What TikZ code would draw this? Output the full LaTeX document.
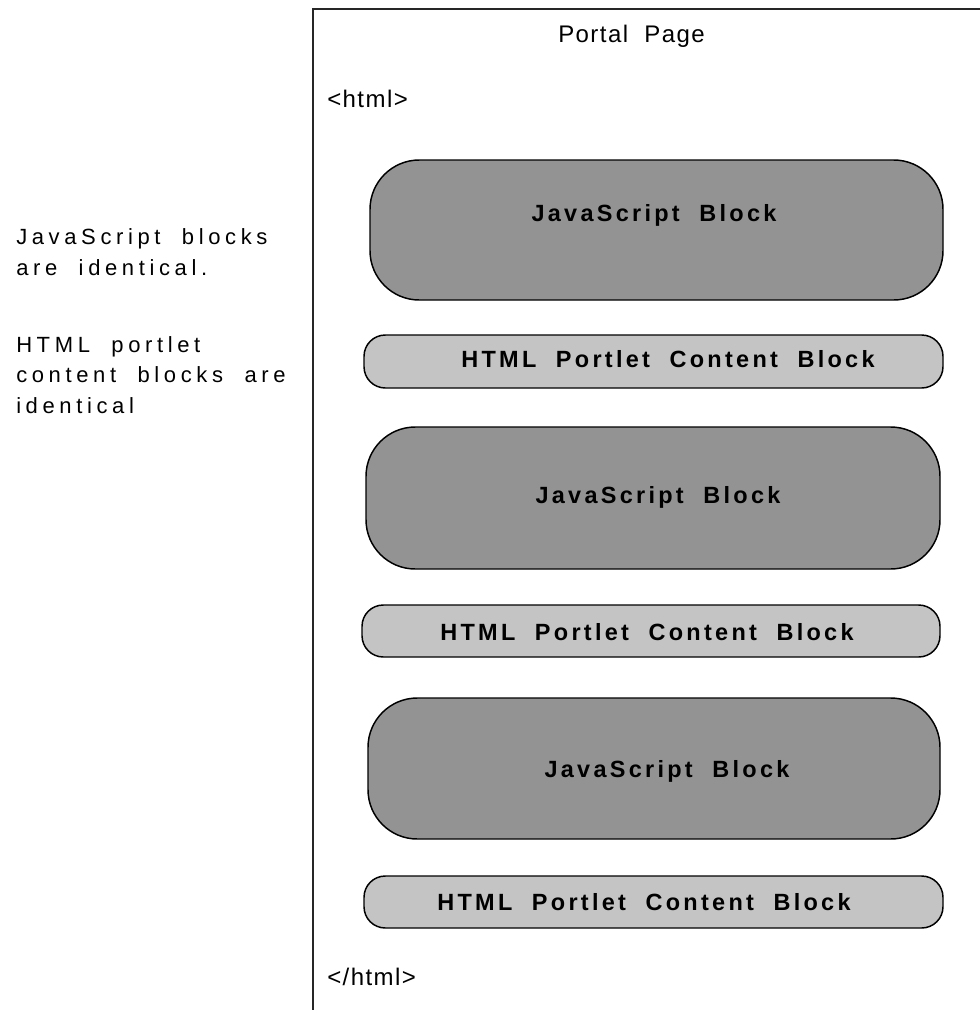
\documentclass[tikz,border=0pt]{standalone}
\usepackage{fontspec}
\setmainfont{Liberation Sans}
\newfontfamily\notefont[LetterSpace=21]{Liberation Sans}
\newfontfamily\tagfont[LetterSpace=6]{Liberation Sans}
\newfontfamily\blockfont[LetterSpace=14]{Liberation Sans Bold}
\definecolor{jsgray}{HTML}{939393}
\definecolor{htgray}{HTML}{C4C4C4}
\begin{document}
\begin{tikzpicture}[x=0.75pt,y=-0.75pt,
  frame/.style={draw=black!85, line width=1.5pt},
  jsblock/.style={draw=black, line width=1.1pt, fill=jsgray, rounded corners=37pt},
  htblock/.style={draw=black, line width=1.1pt, fill=htgray, rounded corners=16pt},
  blocktext/.style={font=\blockfont\fontsize{17.6}{20}\selectfont, inner sep=0pt},
  tagtext/.style={font=\tagfont\fontsize{18}{20}\selectfont, inner sep=0pt, anchor=base west},
  notetext/.style={font=\notefont\fontsize{16.5}{22.75}\selectfont, inner sep=0pt, anchor=base west, align=left}]
\useasboundingbox (0,0) rectangle (979,1010);
\fill[white] (0,0) rectangle (979,1010);
% frame
\coordinate (ftr) at (982,9);
\coordinate (ftl) at (313,9);
\coordinate (fbl) at (313,1013);
\draw[frame] (ftr) -- (ftl) -- (fbl);
% title and tags
\node[tagtext] (title) at (558,42) {Portal\ \ Page};
\node[tagtext] (open) at (327,107) {<html>};
\node[tagtext] (close) at (327,985) {</html>};
% blocks
\draw[jsblock] (370,160) rectangle (943,300);
\draw[htblock] (364,335) rectangle (943,388);
\draw[jsblock] (366,427) rectangle (940,569);
\draw[htblock] (362,605) rectangle (940,657);
\draw[jsblock] (368,698) rectangle (940,839);
\draw[htblock] (364,876) rectangle (943,928);
\node[blocktext] (js1) at (654,215) {JavaScript\ \ Block};
\node[blocktext] (ht1) at (668,359) {HTML\ \ Portlet\ \ Content\ \ Block};
\node[blocktext] (js2) at (658,497) {JavaScript\ \ Block};
\node[blocktext] (ht2) at (647,632) {HTML\ \ Portlet\ \ Content\ \ Block};
\node[blocktext] (js3) at (667,771) {JavaScript\ \ Block};
\node[blocktext] (ht3) at (644,902) {HTML\ \ Portlet\ \ Content\ \ Block};
% notes
\node[notetext] (note1) at (16,275) {JavaScript\ \ blocks\\are\ \ identical.};
\node[notetext] (note2) at (16,413) {HTML\ \ portlet\\content\ \ blocks\ \ are\\identical};
\end{tikzpicture}
\end{document}
